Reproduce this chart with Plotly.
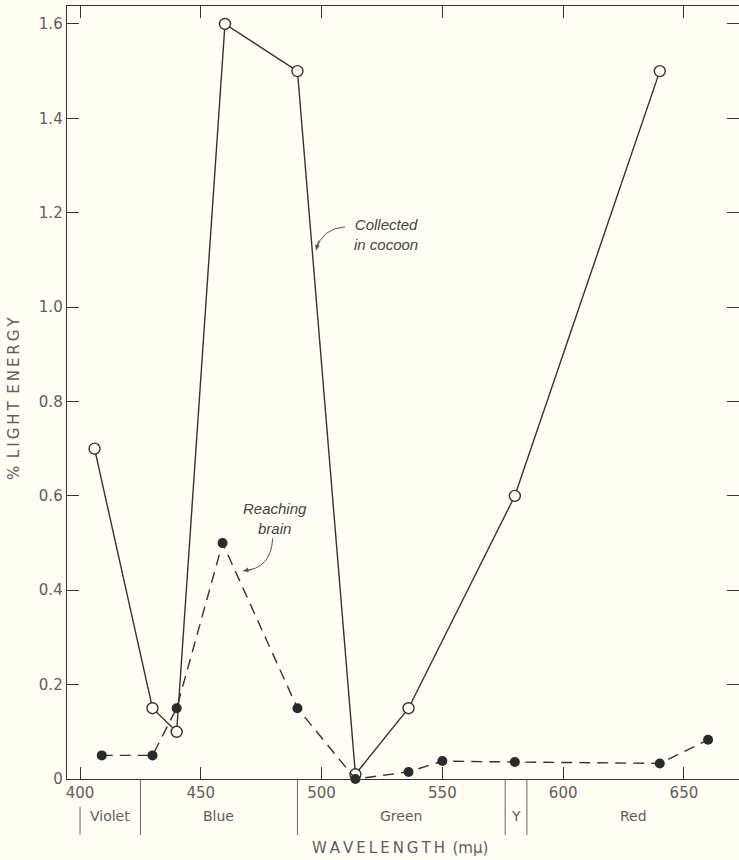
import plotly.graph_objects as go

# ---- data ----
cocoon_wl = [406, 430, 440, 460, 490, 514, 536, 580, 640]
cocoon_pct = [0.70, 0.15, 0.10, 1.60, 1.50, 0.01, 0.15, 0.60, 1.50]

brain_wl = [409, 430, 440, 459, 490, 514, 536, 550, 580, 640, 660]
brain_pct = [0.05, 0.05, 0.15, 0.50, 0.15, 0.0, 0.015, 0.038, 0.036, 0.033, 0.083]

x_ticks = [400, 450, 500, 550, 600, 650]
y_ticks = [0, 0.2, 0.4, 0.6, 0.8, 1.0, 1.2, 1.4, 1.6]
y_tick_text = ["0", "0.2", "0.4", "0.6", "0.8", "1.0", "1.2", "1.4", "1.6"]

band_names = ["Violet", "Blue", "Green", "Y", "Red"]
band_edges = [400, 425, 490, 576, 585, 673]

BG = "#fffdf4"
INK = "#333333"
GRAY = "#5e5e5e"
FONT = "DejaVu Sans"

fig = go.Figure()

fig.add_trace(go.Scatter(
    x=cocoon_wl, y=cocoon_pct, mode="lines+markers",
    line=dict(color=INK, width=1.4),
    marker=dict(symbol="circle", size=11, color=BG, line=dict(color=INK, width=1.4)),
    cliponaxis=False, showlegend=False, hoverinfo="skip"))

fig.add_trace(go.Scatter(
    x=brain_wl, y=brain_pct, mode="lines+markers",
    line=dict(color=INK, width=1.4, dash="11px,7px"),
    marker=dict(symbol="circle", size=10, color="#2a2a2a"),
    cliponaxis=False, showlegend=False, hoverinfo="skip"))

# empty trace so the right-hand tick axis is drawn
fig.add_trace(go.Scatter(x=[], y=[], yaxis="y2", showlegend=False, hoverinfo="skip"))

shapes = []
annotations = []

# colour band separators and labels below axis
for i, edge in enumerate(band_edges[:-1]):
    y0 = -0.036 if i == 0 else 0
    shapes.append(dict(type="line", xref="x", yref="paper", x0=edge, x1=edge,
                       y0=y0, y1=-0.0725, line=dict(color="#666666", width=1)))
for i, name in enumerate(band_names):
    mid = (band_edges[i] + band_edges[i + 1]) / 2
    annotations.append(dict(text=name, xref="x", yref="paper", x=mid, y=0,
                            yshift=-37, showarrow=False, xanchor="center", yanchor="middle",
                            font=dict(family=FONT, size=14, color=GRAY)))

# axis titles
th = "\u2009"
sp = "\u2002"
annotations.append(dict(text=th.join("WAVELENGTH") + sp + "(m\u03bc)", xref="paper", yref="paper",
                        x=0.4955, y=-0.0893, showarrow=False, xanchor="center", yanchor="middle",
                        font=dict(family=FONT, size=15, color=GRAY)))
annotations.append(dict(text="%" + sp + th.join("LIGHT") + sp + th.join("ENERGY"),
                        xref="paper", yref="paper", x=-0.0789, y=0.493, textangle=-90,
                        showarrow=False, xanchor="center", yanchor="middle",
                        font=dict(family=FONT, size=15, color=GRAY)))

# series labels with curved pointers
annotations.append(dict(text="<i>Reaching<br>brain</i>", xref="x", yref="y", x=480.7, y=0.553,
                        showarrow=False, xanchor="center", yanchor="middle",
                        font=dict(family="Liberation Sans", size=15, color="#444444")))
annotations.append(dict(text="<i>Collected<br>in cocoon</i>", xref="x", yref="y", x=526.7, y=1.153,
                        showarrow=False, xanchor="center", yanchor="middle",
                        font=dict(family="Liberation Sans", size=15, color="#444444")))

shapes.append(dict(type="path", xref="x", yref="y",
                   path="M 479.76,0.510 Q 479.05,0.445 467.6,0.441",
                   line=dict(color="#555555", width=1)))
shapes.append(dict(type="path", xref="x", yref="y",
                   path="M 509.7,1.170 Q 500.2,1.167 497.7,1.121",
                   line=dict(color="#555555", width=1)))
annotations.append(dict(text="", x=467.6, y=0.441, xref="x", yref="y", ax=10, ay=-2,
                        showarrow=True, arrowhead=2, arrowsize=1, arrowwidth=1, arrowcolor="#555555"))
annotations.append(dict(text="", x=497.7, y=1.121, xref="x", yref="y", ax=3, ay=-11,
                        showarrow=True, arrowhead=2, arrowsize=1, arrowwidth=1, arrowcolor="#555555"))

fig.update_layout(
    template="none",
    width=739, height=860,
    margin=dict(l=67, r=0, t=6, b=81, pad=0),
    paper_bgcolor=BG, plot_bgcolor=BG,
    showlegend=False,
    shapes=shapes, annotations=annotations,
    xaxis=dict(range=[394.6, 672.8], tickvals=x_ticks, ticks="inside", ticklen=12,
               tickcolor=INK, tickwidth=1, showline=True, linecolor=INK, linewidth=1.3,
               mirror="ticks", showgrid=False, zeroline=False, automargin=False,
               tickfont=dict(family=FONT, size=15, color=GRAY)),
    yaxis=dict(range=[0, 1.638], tickvals=y_ticks, ticktext=y_tick_text, ticks="inside",
               ticklen=12, tickcolor=INK, tickwidth=1, showline=True, linecolor=INK,
               linewidth=1.3, showgrid=False, zeroline=False, automargin=False,
               tickfont=dict(family=FONT, size=15, color=GRAY)),
    yaxis2=dict(range=[0, 1.638], tickvals=y_ticks, overlaying="y", side="right",
                ticks="inside", ticklen=12, tickcolor=INK, tickwidth=1, showline=False,
                showticklabels=False, showgrid=False, zeroline=False, automargin=False),
)

fig.write_html(
    "out.html",
    config={"displayModeBar": False, "staticPlot": True},
    post_script="document.body.style.margin='0px';document.body.style.overflow='hidden';"
                "document.body.style.background='" + BG + "';",
)
